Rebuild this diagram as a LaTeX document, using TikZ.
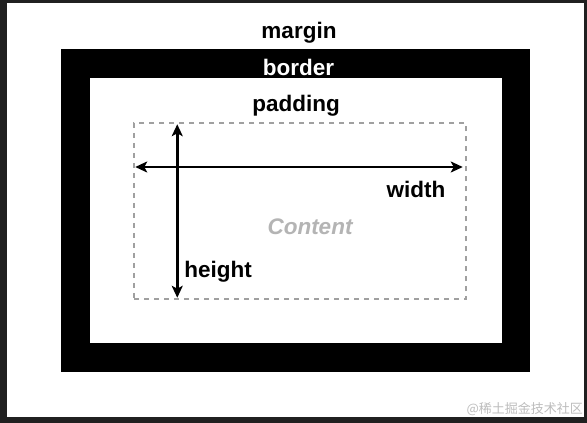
\documentclass[tikz,border=0pt]{standalone}
\usepackage{fontspec}
\setmainfont{Liberation Sans}
\newfontfamily\cjkfont{Noto Sans CJK SC}
\usepackage{xcolor}
\usetikzlibrary{arrows.meta,positioning,calc}

\definecolor{framegray}{HTML}{202020}
\definecolor{dashgray}{HTML}{A0A0A0}
\definecolor{contentgray}{HTML}{B4B4B4}
\definecolor{markgray}{HTML}{BDBDBD}

\begin{document}
\begin{tikzpicture}[
    x=1pt, y=-1pt,
    boxlbl/.style={
        font=\fontsize{22.5}{26}\selectfont\bfseries,
        anchor=base,
        inner sep=0pt
    },
    contentbox/.style={
        rectangle, draw=dashgray,
        line width=1.5pt,
        dash pattern=on 5pt off 5pt,
        minimum width=332pt,
        minimum height=176pt,
        inner sep=0pt
    },
    arr/.style={{Stealth[length=12pt,width=11pt,inset=3pt]}-{Stealth[length=12pt,width=11pt,inset=3pt]}, line width=2.8pt},
]

% frame and boxes
\fill[framegray] (0,0) rectangle (587,423);
\fill[white] (7,3) rectangle (584,417);
\fill[black] (61,49) rectangle (530,372);
\fill[white] (90,78) rectangle (502,343);

\node[contentbox] (content) at (300,211) {};

% labels
\node[boxlbl] (margin) at (299,38) {margin};
\node[boxlbl, text=white] (border) at (298.5,75) {border};
\node[boxlbl] (padding) at (296,111) {padding};
\node[boxlbl] (width) at (416,197) {width};
\node[boxlbl] (height) at (218,277) {height};
\node[boxlbl, text=contentgray, font=\fontsize{22.5}{26}\selectfont\bfseries\itshape] (ctext) at (310,234) {Content};

% arrow ends
\coordinate (wl) at ($(content.west)+(2,-44)$);
\coordinate (wr) at ($(content.east)+(-4,-44)$);
\coordinate (ht) at ($(content.north west)+(44,2)$);
\coordinate (hb) at ($(content.south west)+(44,-2)$);

\draw[arr] (wl) -- (wr);
\draw[arr] (ht) -- (hb);

% watermark
\node[anchor=base east, inner sep=0pt, text=markgray, font=\cjkfont\fontsize{13}{15}\selectfont] (mark) at (583,413) {@稀土掘金技术社区};

\end{tikzpicture}
\end{document}
